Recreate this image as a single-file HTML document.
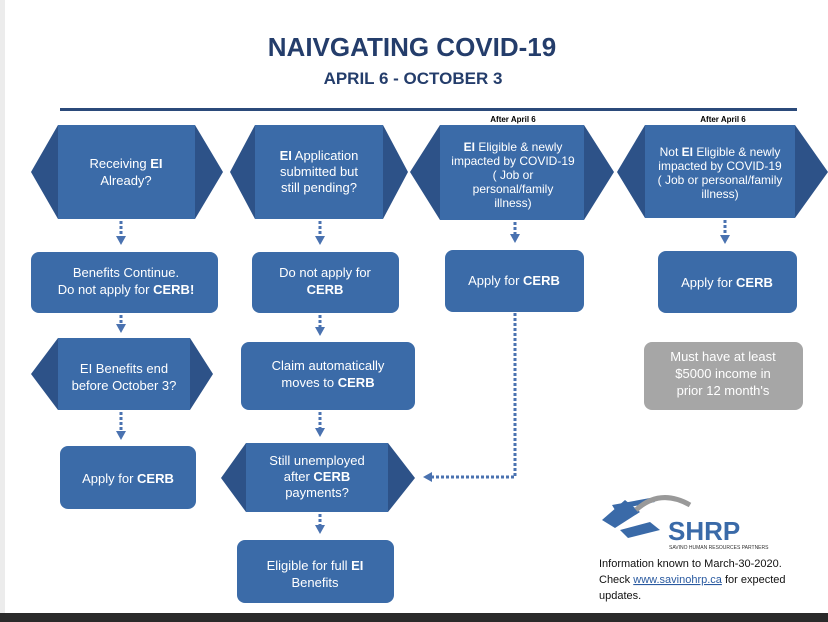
<!DOCTYPE html>
<html><head><meta charset="utf-8"><style>
body{margin:0;background:#fff}
svg{display:block;font-family:"Liberation Sans",sans-serif}
</style></head><body>
<svg width="828" height="622" viewBox="0 0 828 622">
<defs>
<marker id="ad" markerUnits="userSpaceOnUse" markerWidth="10" markerHeight="10" refX="2" refY="5" orient="auto"><path d="M0,0 L9,5 L0,10z" fill="#4a72b0"/></marker>
</defs>
<rect x="0" y="0" width="5" height="622" fill="#ececec"/>
<rect x="0" y="613" width="828" height="9" fill="#2a2a2a"/>
<text x="412" y="56" text-anchor="middle" font-size="26" font-weight="bold" fill="#243d6b">NAIVGATING COVID-19</text>
<text x="413" y="84" text-anchor="middle" font-size="17" font-weight="bold" fill="#243d6b">APRIL 6 - OCTOBER 3</text>
<rect x="60" y="108" width="737" height="3" fill="#2b4a7a"/>
<text x="513" y="122" text-anchor="middle" font-size="8" font-weight="bold">After April 6</text>
<text x="723" y="122" text-anchor="middle" font-size="8" font-weight="bold">After April 6</text>
<g fill="#2d5288">
<polygon points="31,172 58,125 58,219"/><polygon points="195,125 223,172 195,219"/>
<polygon points="230,172 255,125 255,219"/><polygon points="383,125 408,172 383,219"/>
<polygon points="410,172 440,125 440,220"/><polygon points="584,125 614,172 584,220"/>
<polygon points="617,172 645,125 645,218"/><polygon points="795,125 828,172 795,218"/>
<polygon points="31,374 58,338 58,410"/><polygon points="190,338 213,374 190,410"/>
<polygon points="221,478 246,443 246,512"/><polygon points="388,443 415,478 388,512"/>
</g>
<g fill="#3b6ba8">
<rect x="58" y="125" width="137" height="94"/>
<rect x="255" y="125" width="128" height="94"/>
<rect x="440" y="125" width="144" height="95"/>
<rect x="645" y="125" width="150" height="93"/>
<rect x="58" y="338" width="132" height="72"/>
<rect x="246" y="443" width="142" height="69"/>
<rect x="31" y="252" width="187" height="61" rx="8"/>
<rect x="252" y="252" width="147" height="61" rx="8"/>
<rect x="445" y="250" width="139" height="62" rx="8"/>
<rect x="658" y="251" width="139" height="62" rx="8"/>
<rect x="241" y="342" width="174" height="68" rx="8"/>
<rect x="60" y="446" width="136" height="63" rx="8"/>
<rect x="237" y="540" width="157" height="63" rx="8"/>
</g>
<rect x="644" y="342" width="159" height="68" rx="8" fill="#a6a6a6"/>
<g stroke="#4a72b0" stroke-width="3" stroke-dasharray="3,2" fill="none">
<path d="M121,221 V238" marker-end="url(#ad)"/>
<path d="M320,221 V238" marker-end="url(#ad)"/>
<path d="M515,222 V236" marker-end="url(#ad)"/>
<path d="M725,220 V237" marker-end="url(#ad)"/>
<path d="M121,315 V326" marker-end="url(#ad)"/>
<path d="M320,315 V329" marker-end="url(#ad)"/>
<path d="M121,412 V433" marker-end="url(#ad)"/>
<path d="M320,412 V430" marker-end="url(#ad)"/>
<path d="M320,514 V527" marker-end="url(#ad)"/>
<path d="M515,313 V477 H430" marker-end="url(#ad)"/>
</g>
<g fill="#fff" font-size="13" text-anchor="middle">
<text x="126" y="168">Receiving <tspan font-weight="bold">EI</tspan></text>
<text x="126" y="185">Already?</text>
<text x="319" y="160"><tspan font-weight="bold">EI</tspan> Application</text>
<text x="319" y="176">submitted but</text>
<text x="319" y="192">still pending?</text>
<g font-size="12"><text x="513" y="151"><tspan font-weight="bold">EI</tspan> Eligible &amp; newly</text>
<text x="513" y="165">impacted by COVID-19</text>
<text x="513" y="179">( Job or</text>
<text x="513" y="193">personal/family</text>
<text x="513" y="207">illness)</text>
<text x="720" y="156">Not  <tspan font-weight="bold">EI</tspan> Eligible &amp; newly</text>
<text x="720" y="170">impacted by COVID-19</text>
<text x="720" y="184">( Job or personal/family</text>
<text x="720" y="198">illness)</text></g>
<text x="126" y="277">Benefits Continue.</text>
<text x="126" y="294">Do not apply for <tspan font-weight="bold">CERB!</tspan></text>
<text x="325" y="277">Do not apply for</text>
<text x="325" y="294" font-weight="bold">CERB</text>
<text x="514" y="285">Apply for <tspan font-weight="bold">CERB</tspan></text>
<text x="727" y="287">Apply for <tspan font-weight="bold">CERB</tspan></text>
<text x="124" y="373">EI Benefits end</text>
<text x="124" y="390">before October 3?</text>
<text x="328" y="370">Claim automatically</text>
<text x="328" y="387">moves to <tspan font-weight="bold">CERB</tspan></text>
<text x="723" y="361">Must have at least</text>
<text x="723" y="378">$5000 income  in</text>
<text x="723" y="395">prior 12 month's</text>
<text x="128" y="483">Apply for <tspan font-weight="bold">CERB</tspan></text>
<text x="317" y="465">Still unemployed</text>
<text x="317" y="481">after <tspan font-weight="bold">CERB</tspan></text>
<text x="317" y="497">payments?</text>
<text x="315" y="570">Eligible for full <tspan font-weight="bold">EI</tspan></text>
<text x="315" y="587">Benefits</text>
</g>
<g fill="#3a6aa8">
<polygon points="602,520 625,500 640,512 615,528"/>
<polygon points="620,530 650,522 660,530 628,538"/>
<polygon points="612,505 650,498 655,502 615,510"/>
<path d="M636,510 Q660,488 690,505" stroke="#999" stroke-width="5" fill="none"/>
</g>
<text x="668" y="540" font-size="26" font-weight="bold" fill="#3a6aa8">SHRP</text>
<text x="669" y="549" font-size="5" fill="#333">SAVINO HUMAN RESOURCES PARTNERS</text>
<g font-size="11" fill="#111">
<text x="599" y="567">Information known to March-30-2020.</text>
<text x="599" y="583">Check <tspan fill="#2a5aa0" text-decoration="underline">www.savinohrp.ca</tspan> for expected</text>
<text x="599" y="599">updates.</text>
</g>
</svg>
</body></html>
